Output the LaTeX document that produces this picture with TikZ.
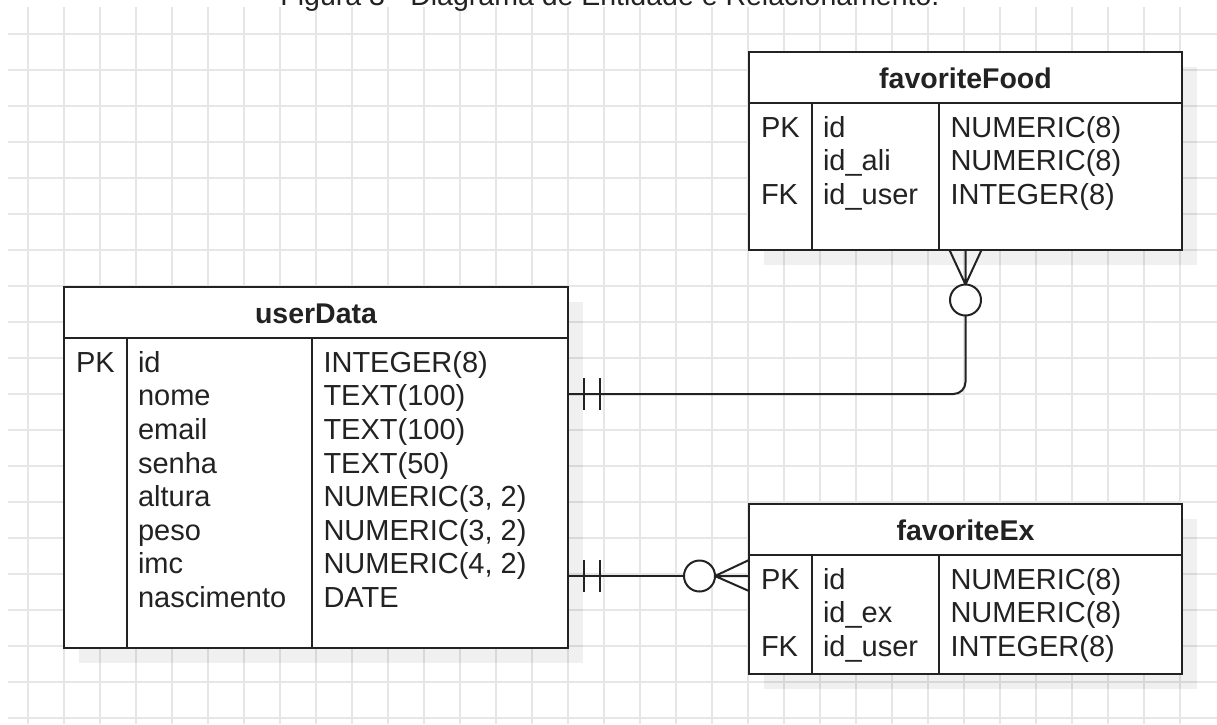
\documentclass[tikz,border=0pt]{standalone}
\usepackage{fontspec}
\setmainfont{Liberation Sans}
\usetikzlibrary{calc,shadows}
\definecolor{gridgray}{HTML}{E6E6E6}
\definecolor{inkgray}{HTML}{222222}

\begin{document}
\begin{tikzpicture}[x=1pt, y=-1pt, line width=2pt, color=inkgray,
  font=\fontsize{29}{33.6}\selectfont,
  gridline/.style={gridgray, line width=2pt},
  entity/.style={draw, fill=white, inner sep=0, outer sep=0,
    drop shadow={shadow xshift=15pt, shadow yshift=-15pt, fill=black, opacity=0.06}},
  optcircle/.style={circle, draw, fill=white, inner sep=0, outer sep=0, minimum size=31},
  cell/.style={anchor=base west, inner sep=0},
  heading/.style={anchor=base, inner sep=0, font=\fontsize{28.5}{33.6}\selectfont\bfseries}]
  \useasboundingbox (0,0) rectangle (1217,724);
  \clip (0,0) rectangle (1217,724);
  \fill[white] (0,0) rectangle (1217,724);
  % background grid of the editor
  \foreach \i in {0,...,32} \draw[gridline] (27.7+36*\i,7) -- (27.7+36*\i,724);
  \foreach \j in {0,...,19} \draw[gridline, line width=2.6pt] (8,34+36*\j) -- (1217,34+36*\j);
  \node[anchor=base, inner sep=0, font=\fontsize{28.5}{33.6}\selectfont] (caption) at (610,5) {Figura 3 - Diagrama de Entidade e Relacionamento.};

  % userData
  \node[entity, minimum width=504, minimum height=361] (userData) at (316,467.5) {};
  \draw ($(userData.north west)+(0,51)$) -- ($(userData.north east)+(0,51)$);
  \foreach \dx in {63,248} \draw ($(userData.north west)+(\dx,51)$) -- ($(userData.south west)+(\dx,0)$);
  \node[heading] (userDataName) at ($(userData.north)+(0,36)$) {userData};
  \node[cell] (ud-pk) at ($(userData.north west)+(11,85.2)$) {PK};
  \foreach \n/\t [count=\r from 0] in {id/INTEGER(8), nome/TEXT(100), email/TEXT(100), senha/TEXT(50),
      altura/{NUMERIC(3, 2)}, peso/{NUMERIC(3, 2)}, imc/{NUMERIC(4, 2)}, nascimento/DATE} {
    \node[cell] (ud-n\r) at ($(userData.north west)+(73,{85.2+33.6*\r})$) {\n};
    \node[cell] (ud-t\r) at ($(userData.north west)+(258.5,{85.2+33.6*\r})$) {\t};
  }

  % favoriteFood
  \node[entity, minimum width=433, minimum height=198] (favoriteFood) at (965.5,151) {};
  \draw ($(favoriteFood.north west)+(0,51)$) -- ($(favoriteFood.north east)+(0,51)$);
  \foreach \dx in {63,190} \draw ($(favoriteFood.north west)+(\dx,51)$) -- ($(favoriteFood.south west)+(\dx,0)$);
  \node[heading] (favoriteFoodName) at ($(favoriteFood.north)+(0,36)$) {favoriteFood};
  \node[cell] (ff-pk) at ($(favoriteFood.north west)+(11,85.2)$) {PK};
  \node[cell] (ff-fk) at ($(favoriteFood.north west)+(11,152.4)$) {FK};
  \foreach \n/\t [count=\r from 0] in {id/NUMERIC(8), id\_ali/NUMERIC(8), id\_user/INTEGER(8)} {
    \node[cell] (ff-n\r) at ($(favoriteFood.north west)+(73,{85.2+33.6*\r})$) {\n};
    \node[cell] (ff-t\r) at ($(favoriteFood.north west)+(200.5,{85.2+33.6*\r})$) {\t};
  }

  % favoriteEx
  \node[entity, minimum width=433, minimum height=170] (favoriteEx) at (965.5,589) {};
  \draw ($(favoriteEx.north west)+(0,51)$) -- ($(favoriteEx.north east)+(0,51)$);
  \foreach \dx in {63,190} \draw ($(favoriteEx.north west)+(\dx,51)$) -- ($(favoriteEx.south west)+(\dx,0)$);
  \node[heading] (favoriteExName) at ($(favoriteEx.north)+(0,36)$) {favoriteEx};
  \node[cell] (fe-pk) at ($(favoriteEx.north west)+(11,85.2)$) {PK};
  \node[cell] (fe-fk) at ($(favoriteEx.north west)+(11,152.4)$) {FK};
  \foreach \n/\t [count=\r from 0] in {id/NUMERIC(8), id\_ex/NUMERIC(8), id\_user/INTEGER(8)} {
    \node[cell] (fe-n\r) at ($(favoriteEx.north west)+(73,{85.2+33.6*\r})$) {\n};
    \node[cell] (fe-t\r) at ($(favoriteEx.north west)+(200.5,{85.2+33.6*\r})$) {\t};
  }

  % relationships: one user, zero or many favourites
  \coordinate (udFood) at ($(userData.north east)+(0,107)$);
  \coordinate (udEx) at ($(userData.north east)+(0,289)$);
  \node[optcircle] (foodOpt) at (favoriteFood.south |- 0,300) {};
  \draw[rounded corners=12] (udFood) -- (udFood -| foodOpt) -- (foodOpt.south);
  \foreach \d in {16,32} \draw ($(udFood)+(\d,-16)$) -- ++(0,32);
  \draw (foodOpt.north) -- (favoriteFood.south)
        (foodOpt.north) -- ($(favoriteFood.south)+(-16,0)$)
        (foodOpt.north) -- ($(favoriteFood.south)+(16,0)$);

  \node[optcircle] (exOpt) at ($(udEx)+(131.5,0)$) {};
  \coordinate (exIn) at (favoriteEx.west |- udEx);
  \draw (udEx) -- (exOpt.west);
  \foreach \d in {16,32} \draw ($(udEx)+(\d,-16)$) -- ++(0,32);
  \draw (exOpt.east) -- (exIn)
        (exOpt.east) -- ($(exIn)+(0,-16)$)
        (exOpt.east) -- ($(exIn)+(0,15)$);
\end{tikzpicture}
\end{document}
